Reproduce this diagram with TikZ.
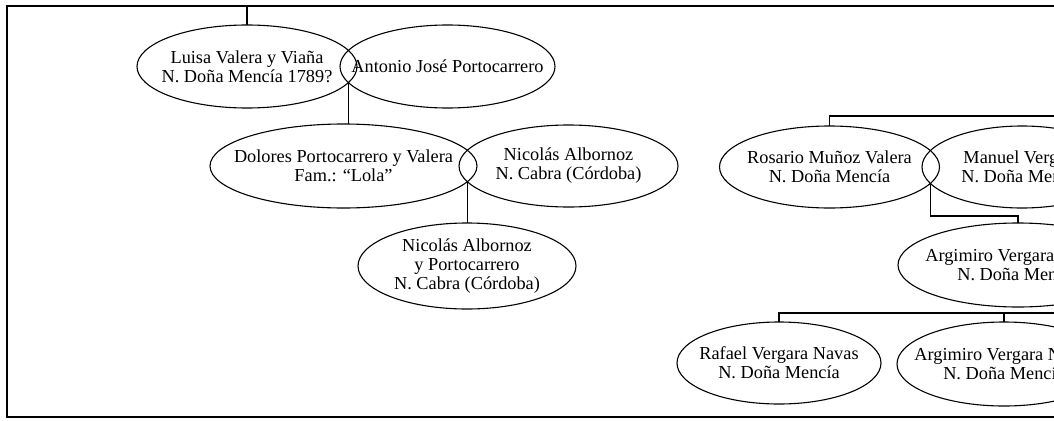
\documentclass[tikz,border=0pt]{standalone}
\usepackage{fontspec}
\setmainfont{Liberation Serif}
\usetikzlibrary{shapes.geometric}

\begin{document}
\begin{tikzpicture}[x=1pt,y=-1pt,line width=1.1pt,person node/.style={ellipse,draw,outer sep=0pt,inner xsep=-80pt,inner ysep=-15pt,align=center,font=\fontsize{18.3}{19}\selectfont},frame line/.style={line width=2.2pt}]
  \useasboundingbox (0,0) rectangle (1054,420);
  \node[person node, minimum width=220pt, minimum height=83pt] (luisa) at (247, 66.5) {Luisa Valera y Viaña\\N. Doña Mencía 1789?};
  \node[person node, minimum width=215pt, minimum height=83pt] (antonio) at (447.5, 66.5) {Antonio José Portocarrero};
  \node[person node, minimum width=267pt, minimum height=84pt] (dolores) at (343.5, 166) {Dolores Portocarrero y Valera\\Fam.: “Lola”};
  \node[person node, minimum width=219pt, minimum height=82pt] (nicolas) at (568.5, 166) {Nicolás Albornoz\\N. Cabra (Córdoba)};
  \node[person node, minimum width=218pt, minimum height=86pt] (nicolasjr) at (467, 266) {Nicolás Albornoz\\y Portocarrero\\N. Cabra (Córdoba)};
  \node[person node, minimum width=220pt, minimum height=82pt] (rosario) at (829.5, 167) {Rosario Muñoz Valera\\N. Doña Mencía};
  \node[person node, minimum width=200pt, minimum height=82pt] (manuel) at (1022, 167) {Manuel Vergara\\N. Doña Mencía};
  \node[person node, minimum width=240pt, minimum height=84pt] (argimiro) at (1018, 265) {Argimiro Vergara Muñoz\\N. Doña Mencía};
  \node[person node, minimum width=204pt, minimum height=82pt] (rafael) at (779, 363) {Rafael Vergara Navas\\N. Doña Mencía};
  \node[person node, minimum width=214pt, minimum height=84pt] (argimirojr) at (1004, 364) {Argimiro Vergara Navas\\N. Doña Mencía};
  \coordinate (tl) at (7, 6);
  \coordinate (bl) at (7, 417);
  \coordinate (e1) at (1060, 116);
  \coordinate (e2) at (1060, 313);
  \draw[frame line] (1060, 6) -- (tl) -- (bl) -- (1060, 417);
  \draw (luisa.north) -- (luisa.north |- tl);
  \draw (luisa.-9) -- (luisa.-9 |- dolores.north);
  \draw (dolores.-7.3) -- (dolores.-7.3 |- nicolasjr.north);
  \draw (rosario.north) |- (e1);
  \draw (rosario.-9.2) |- ([yshift=7pt]argimiro.north) -- (argimiro.north);
  \draw (rafael.north) |- (e2);
  \draw (argimirojr.north) -- (argimirojr.north |- e2);
\end{tikzpicture}
\end{document}
